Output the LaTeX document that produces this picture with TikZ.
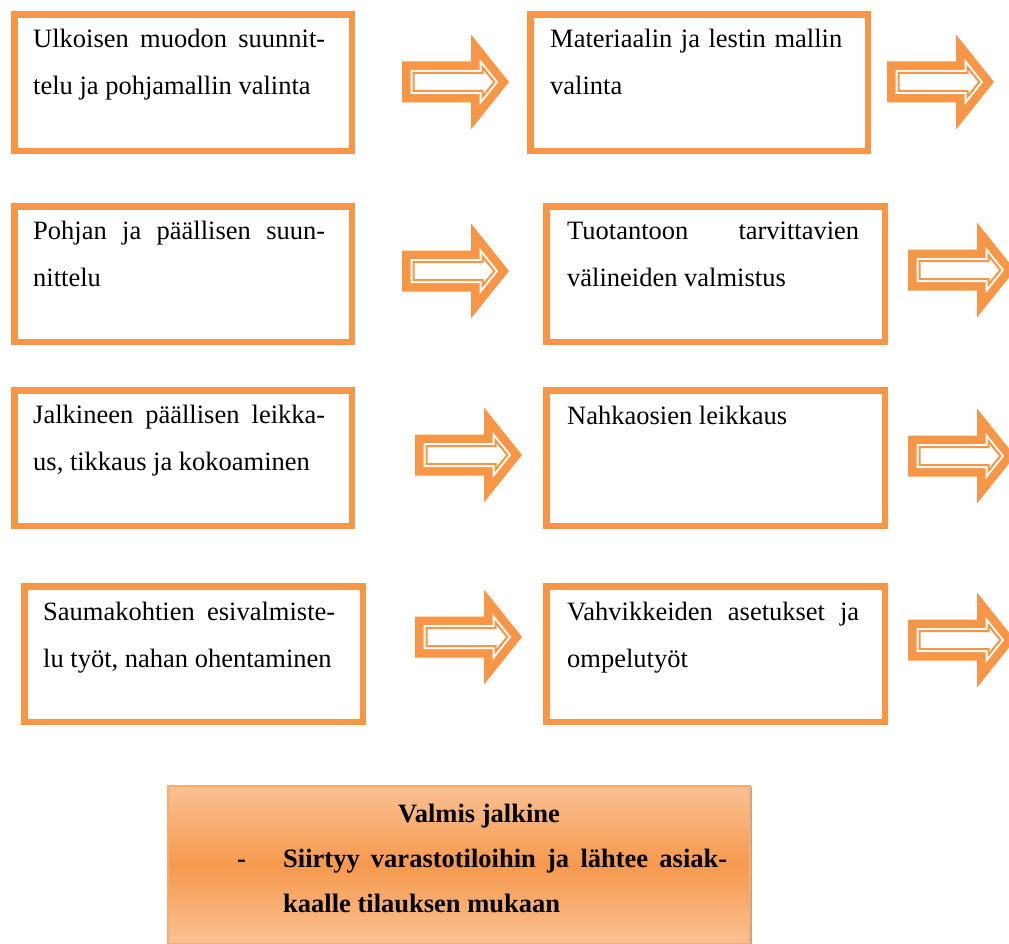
\documentclass[tikz,border=0pt]{standalone}
\usepackage{fontspec}
\setmainfont{Liberation Serif}
\usetikzlibrary{calc}
\definecolor{accent}{HTML}{F79646}
\definecolor{lightacc}{HTML}{FAC193}
\definecolor{midacc}{HTML}{F6994E}
\newcommand{\jtext}[2]{\vtop{\hsize=292pt\parindent=0pt\makebox[292pt][s]{#1}\par #2}}
\newcommand{\otext}[1]{\vtop{\hsize=292pt\parindent=0pt #1}}
\tikzset{
  stepbox/.style={draw=accent, line width=6.5pt, fill=white, inner sep=0pt, anchor=north west, rectangle},
  boxtxt/.style={anchor=base west, inner sep=0pt, font=\fontsize{26.5}{47}\selectfont},
  blockarrow/.pic={
    \fill[accent] (0,-20.5) -- (69,-20.5) -- (69,-47.5) -- (107,0) -- (69,47.5) -- (69,20.5) -- (0,20.5) -- cycle;
    \fill[white] (8.5,-12) -- (77.5,-12) -- (77.5,-23.3) -- (96.1,0) -- (77.5,23.3) -- (77.5,12) -- (8.5,12) -- cycle;
    \draw[accent, line width=2pt, miter limit=20] (11.5,-9) -- (80.5,-9) -- (80.5,-14.7) -- (92.3,0) -- (80.5,14.7) -- (80.5,9) -- (11.5,9) -- cycle;
  }
}
\begin{document}
\begin{tikzpicture}[x=1pt, y=-1pt]
\useasboundingbox (0,0) rectangle (1009,944);
\clip (0,0) rectangle (1009,944);
\fill[white] (0,0) rectangle (1009,944);

% boxes
\node[stepbox, minimum width=337.5pt, minimum height=136.5pt] (b1) at (11.25,11.25) {};
\node[stepbox, minimum width=337.5pt, minimum height=136.5pt] (b2) at (527.25,11.25) {};
\node[stepbox, minimum width=337.5pt, minimum height=135.5pt] (b3) at (11.25,203.25) {};
\node[stepbox, minimum width=338.5pt, minimum height=135.5pt] (b4) at (543.25,203.25) {};
\node[stepbox, minimum width=337.5pt, minimum height=135.5pt] (b5) at (11.25,387.25) {};
\node[stepbox, minimum width=338.5pt, minimum height=135.5pt] (b6) at (543.25,387.25) {};
\node[stepbox, minimum width=338.5pt, minimum height=135.5pt] (b7) at (21.25,583.25) {};
\node[stepbox, minimum width=338.5pt, minimum height=135.5pt] (b8) at (543.25,583.25) {};

% texts
\node[boxtxt] (t1) at (33,48) {\jtext{Ulkoisen muodon suunnit-}{telu ja pohjamallin valinta}};
\node[boxtxt] (t2) at (550,48) {\jtext{Materiaalin ja lestin mallin}{valinta}};
\node[boxtxt] (t3) at (33,240) {\jtext{Pohjan ja päällisen suun-}{nittelu}};
\node[boxtxt] (t4) at (567,240) {\jtext{Tuotantoon tarvittavien}{välineiden valmistus}};
\node[boxtxt] (t5) at (33,423) {\jtext{Jalkineen päällisen leikka-}{us, tikkaus ja kokoaminen}};
\node[boxtxt] (t6) at (567,424) {\otext{Nahkaosien leikkaus}};
\node[boxtxt] (t7) at (43,620) {\jtext{Saumakohtien esivalmiste-}{lu työt, nahan ohentaminen}};
\node[boxtxt] (t8) at (567,620) {\jtext{Vahvikkeiden asetukset ja}{ompelutyöt}};

% block arrows
\pic at (402,82) {blockarrow};
\pic at (887,82) {blockarrow};
\pic at (402,271) {blockarrow};
\pic at (908,270) {blockarrow};
\pic at (415,455) {blockarrow};
\pic at (908,456) {blockarrow};
\pic at (415,637) {blockarrow};
\pic at (908,640) {blockarrow};

% final box
\draw[gray!70, line width=2pt] (751,787) -- (751,944);
\node[draw=accent!80, line width=2pt, top color=lightacc, bottom color=lightacc, middle color=midacc,
      anchor=north west, inner sep=0pt, minimum width=582pt, minimum height=158pt] (b9) at (167,785) {};
\node[anchor=base, inner sep=0pt, font=\fontsize{26.5}{45}\selectfont\bfseries] (t9) at (479,822) {Valmis jalkine};
\node[anchor=base west, inner sep=0pt, font=\fontsize{26.5}{45}\selectfont\bfseries] (t10) at (237,867) {-};
\node[anchor=base west, inner sep=0pt, font=\fontsize{26.5}{45}\selectfont\bfseries] (t11) at (283,867)
  {\vtop{\hsize=444pt\parindent=0pt\makebox[444pt][s]{Siirtyy varastotiloihin ja lähtee asiak-}\par kaalle tilauksen mukaan}};
\end{tikzpicture}
\end{document}
